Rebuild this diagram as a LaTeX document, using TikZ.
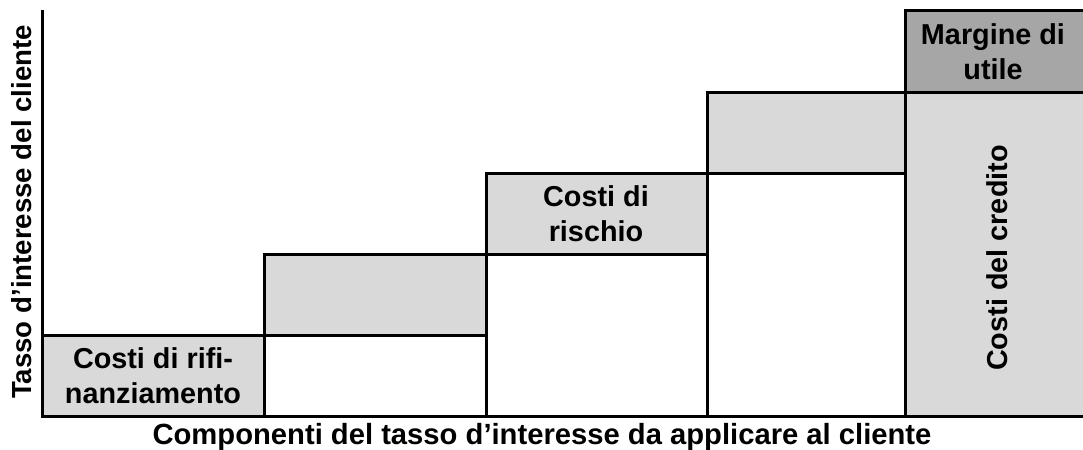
\documentclass[tikz,border=0pt]{standalone}
\usepackage{fontspec}
\setmainfont{Liberation Sans}
\definecolor{lgrey}{HTML}{D9D9D9}
\definecolor{dgrey}{HTML}{A6A6A6}
\begin{document}
\begin{tikzpicture}[x=0.5pt,y=-0.5pt,
  col/.style={draw=black,line width=1.5pt},
  lbl/.style={font=\bfseries\fontsize{14.4}{17.5}\selectfont,align=center,inner sep=0pt},
  ax/.style={font=\bfseries\fontsize{14.6}{17}\selectfont,inner sep=0pt}]
\useasboundingbox (0,0) rectangle (1083,450);
% columns
\filldraw[col,fill=lgrey] (42,335) rectangle (264,416);
\filldraw[col,fill=white] (264,254) rectangle (486,416);
\filldraw[col,fill=lgrey] (264,254) rectangle (486,335);
\filldraw[col,fill=white] (486,173) rectangle (707,416);
\filldraw[col,fill=lgrey] (486,173) rectangle (707,254);
\filldraw[col,fill=white] (707,92) rectangle (905,416);
\filldraw[col,fill=lgrey] (707,92) rectangle (905,173);
\filldraw[col,fill=lgrey] (905,92) rectangle (1090,416);
\filldraw[col,fill=dgrey] (905,10) rectangle (1090,92);
% axis
\coordinate (top) at (42,10);
\coordinate (orig) at (42,416);
\draw[col] (top) -- (orig);
% labels
\node[lbl] (refin) at (153,376) {Costi di rifi-\\nanziamento};
\node[lbl] (risk) at (596,214) {Costi di\\rischio};
\node[lbl] (margin) at (993,52) {Margine di\\utile};
\node[lbl,rotate=90] (credit) at (997,258) {Costi del credito};
\node[ax,rotate=90,font=\bfseries\fontsize{13.8}{16}\selectfont] (ylab) at (22,212) {Tasso d’interesse del cliente};
\node[ax] (xlab) at (542,437) {Componenti del tasso d’interesse da applicare al cliente};
\end{tikzpicture}
\end{document}
